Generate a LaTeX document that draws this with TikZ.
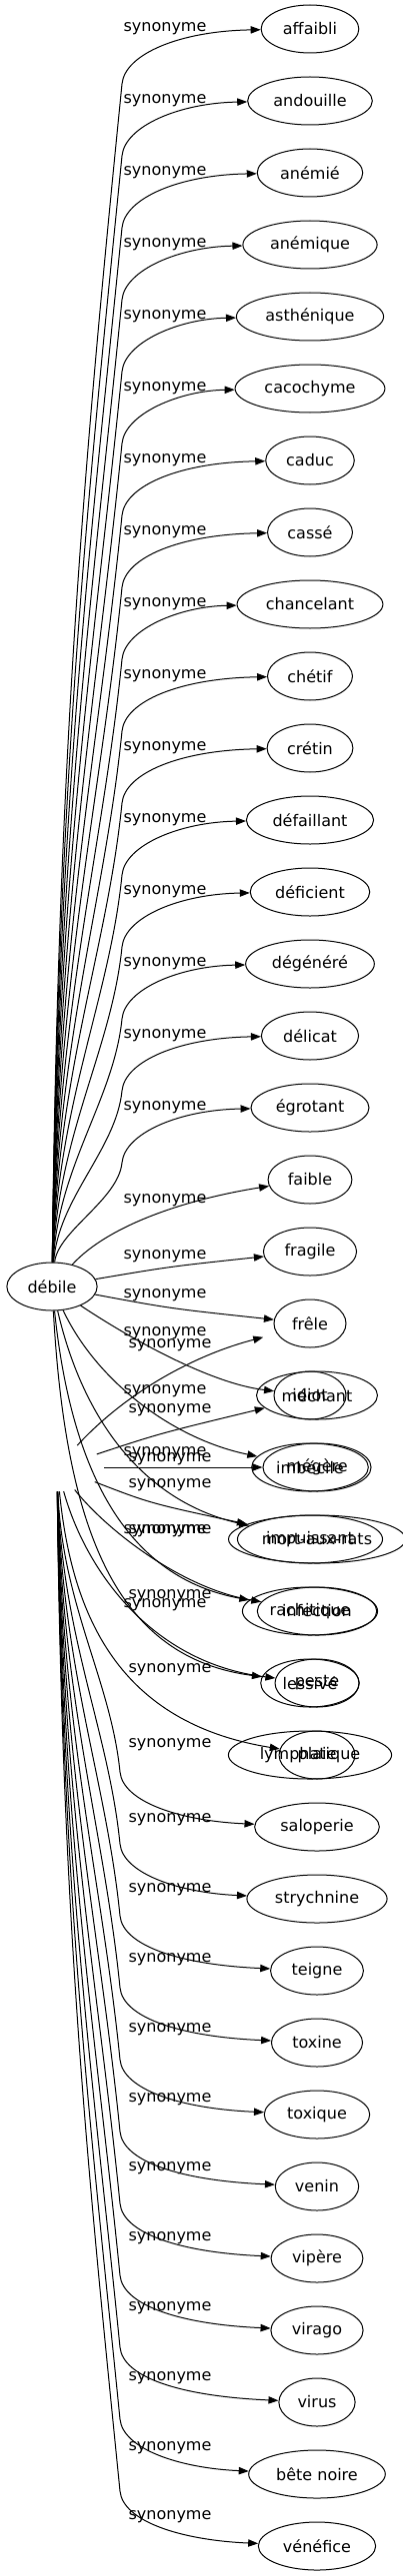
\documentclass[tikz,border=0pt]{standalone}
\usepackage{fontspec}
\setmainfont{DejaVu Sans}
\usetikzlibrary{arrows.meta, shapes.geometric}
\tikzstyle{word} = [
    ellipse, 
    draw=black, 
    line width=0.75pt, 
    font=\fontsize{12pt}{14pt}\selectfont, 
    inner xsep=5.6pt, 
    inner ysep=2pt, 
    minimum width=54pt, 
    minimum height=36pt
]
\tikzstyle{ghost} = [
    ellipse, 
    inner sep=0pt, 
    minimum height=36pt % drawn nowhere, only holds the edge ends
]
\tikzstyle{syn} = [
    font=\fontsize{12pt}{14pt}\selectfont, 
    inner sep=0pt
]
\tikzstyle{link} = [
    line width=0.75pt, 
    -{Triangle[length=7.5pt, width=5.5pt]}
]

\begin{document}
\begin{tikzpicture}[x=0.75pt, y=-0.75pt]
\useasboundingbox (0,0) rectangle (403,2579);

\node [word] (debile) at (52,1288) {débile};
\node [ghost, minimum width=70.5pt] (poison) at (57,1469) {};
\node [ghost, minimum width=97.5pt] (cache) at (317,1325) {};

% first column
\foreach \id/\txt [count=\k from 0] in {affaibli/affaibli, andouille/andouille, 
    anemie/anémié, anemique/anémique, asthenique/asthénique, cacochyme/cacochyme, 
    caduc/caduc, casse/cassé, chancelant/chancelant, chetif/chétif, cretin/crétin, 
    defaillant/défaillant, deficient/déficient, degenere/dégénéré, delicat/délicat, 
    egrotant/égrotant, faible/faible, fragile/fragile, frele/frêle, idiot/idiot, 
    imbecile/imbécile, impuissant/impuissant, rachitique/rachitique, 
    lessive/lessivé, lymphatique/lymphatique}
    \node [word] (\id) at (310,29+72*\k) {\txt};

% second column, a little to the right
\foreach \id/\txt [count=\k from 19] in {mechant/méchant, megere/mégère, 
    mortauxrats/mort-aux-rats, infection/infection, peste/peste, plaie/plaie, 
    saloperie/saloperie, strychnine/strychnine, teigne/teigne, toxine/toxine, 
    toxique/toxique, venin/venin, vipere/vipère, virago/virago, virus/virus, 
    betenoire/bête noire, venefice/vénéfice}
    \node [word] (\id) at (317,29+72*\k) {\txt};

% labels
\foreach \k in {0,...,15}
    \node [syn] (top\k) at (165,29+72*\k) {synonyme};
\foreach \x/\y [count=\i] in {165/1202, 165/1258, 165/1297, 165/1335, 170/1347, 
    165/1393, 170/1412, 165/1455, 170/1461, 170/1487, 165/1533, 170/1533, 
    170/1598, 165/1607, 170/1672, 170/1747}
    \node [syn] (mid\i) at (\x,\y) {synonyme};
\foreach \k in {25,...,35}
    \node [syn] (low\k) at (170,{29+72*\k-7-2.2*(\k-25)}) {synonyme};

% edges going up from debile
\foreach \id [count=\k from 0] in {affaibli, andouille, anemie, anemique, 
    asthenique, cacochyme, caduc, casse, chancelant, chetif, cretin, defaillant, 
    deficient, degenere, delicat, egrotant} {
    \pgfmathsetmacro\ty{29+72*\k}
    \pgfmathsetmacro\ky{\ty+55}
    \pgfmathsetmacro\d{1288-\ky}
    \draw [link] (debile) .. controls (58,1288-0.45*\d) and (122-0.03*\d,\ky+0.3*\d) .. (122,\ky)
        .. controls (125,\ky-30) and (180,\ty+2) .. (\id);
}
\draw [link] (debile) .. controls (110,1225) and (190,1200) .. (faible);
\draw [link] (debile) .. controls (170,1268) .. (fragile);
\draw [link] (debile) .. controls (170,1310) .. (frele);
\draw [link] (debile) .. controls (130,1340) and (210,1385) .. (idiot);
\draw [link] (debile) .. controls (95,1380) and (170,1440) .. (imbecile);
\draw [link] (debile) .. controls (85,1430) and (150,1505) .. (impuissant);
\draw [link] (debile) .. controls (72,1480) and (130,1580) .. (rachitique);
\draw [link] (debile) .. controls (66,1540) and (120,1660) .. (lessive);

% edges of the hidden source
\draw [link] (poison) .. controls (130,1390) and (200,1355) .. (cache);
\draw [link] (poison) .. controls (160,1435) .. (mechant);
\draw [link] (poison) -- (megere);
\draw [link] (poison) .. controls (150,1505) .. (mortauxrats);
\draw [link] (poison) .. controls (105,1530) and (180,1590) .. (infection);
\draw [link] (poison) .. controls (85,1570) and (150,1665) .. (peste);
\draw [link] (poison) .. controls (72,1620) and (120,1725) .. (plaie);
\foreach \id [count=\k from 25] in {saloperie, strychnine, teigne, toxine, 
    toxique, venin, vipere, virago, virus, betenoire, venefice} {
    \pgfmathsetmacro\ty{29+72*\k}
    \pgfmathsetmacro\ky{\ty-55}
    \pgfmathsetmacro\d{\ky-1469}
    \draw [link] (poison) .. controls (62,1469+0.45*\d) and (120-0.03*\d,\ky-0.3*\d) .. (120,\ky)
        .. controls (123,\ky+30) and (180,\ty-6) .. (\id);
}
\end{tikzpicture}
\end{document}
